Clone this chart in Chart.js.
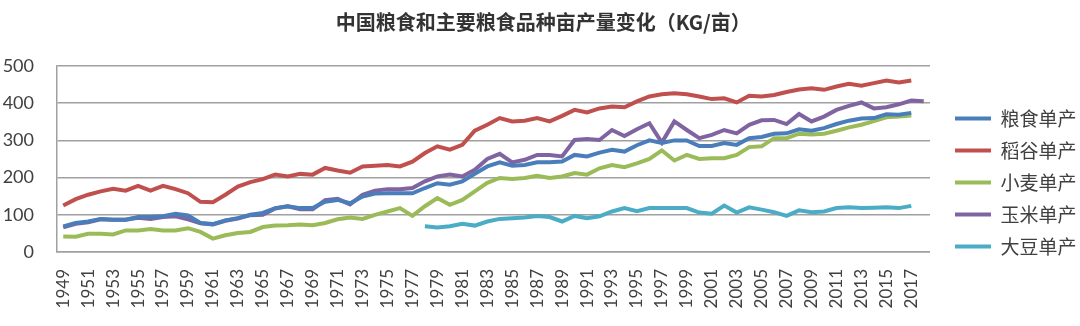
<!DOCTYPE html>
<html>
<head>
<meta charset="utf-8">
<script src="https://cdn.jsdelivr.net/npm/chart.js@4/dist/chart.umd.min.js"></script>
<style>
  html, body { margin: 0; padding: 0; background: #fff; }
  #wrap { position: relative; width: 1080px; height: 326px; }
</style>
</head>
<body>
<div id="wrap"><canvas id="c"></canvas></div>
<script>
// China grain yield per mu, 1949-2018 (kg/亩)
var YEARS = [];
for (var y = 1949; y <= 2018; y++) YEARS.push(String(y));

// one row = ten years, starting 1949
var GRAIN = [69,78,82,89,87,87,94,94,96,103,
  98,78,75,85,91,100,105,118,123,118,
  118,135,140,131,149,157,158,158,158,172,
  185,181,190,210,230,241,232,234,241,241,
  243,261,257,267,275,270,287,300,293,300,
  300,285,285,293,288,306,309,318,319,330,
  326,333,344,353,359,360,370,369,374,null];
var RICE = [125,142,154,163,170,165,178,165,178,169,
  158,135,134,154,176,188,196,208,203,210,
  208,226,219,213,230,232,234,230,243,266,
  284,275,288,326,342,360,351,353,360,351,
  366,382,375,386,391,389,405,418,424,427,
  424,418,411,413,402,420,418,422,430,437,
  440,436,445,452,447,454,461,456,461,null];
var WHEAT = [42,41,49,49,47,58,58,62,58,58,
  64,54,36,45,51,54,67,71,72,74,
  72,78,88,93,89,100,109,118,97,123,
  145,127,140,163,186,199,196,199,205,199,
  203,212,208,225,234,228,238,250,273,246,
  261,250,252,252,261,282,284,306,306,318,
  316,318,326,335,342,352,362,364,367,null];
var CORN = [66,76,80,88,87,87,92,89,94,96,
  88,77,74,84,90,99,100,117,123,115,
  115,139,143,128,154,165,169,169,172,190,
  203,208,203,221,250,264,241,248,261,261,
  257,301,304,301,328,312,330,346,294,351,
  328,306,315,328,319,342,354,355,344,371,
  351,364,382,393,402,386,389,397,407,405];
// soybean only from 1978
var SOY_START = 1978;
var SOY = [69,66,69,76,71,82,89,91,93,97,
  94,82,97,91,96,109,118,110,118,118,
  118,118,106,103,125,106,120,114,107,97,
  112,107,109,118,120,118,119,120,118,124,null];

var NAMES = ["粮食单产", "稻谷单产", "小麦单产", "玉米单产", "大豆单产"];
var COLORS = ["#4a7ebb", "#c0504d", "#9bbb59", "#8064a2", "#4bacc6"];

function lead(startYear, arr) {
  var out = [];
  for (var i = 1949; i < startYear; i++) out.push(null);
  return out.concat(arr).slice(0, YEARS.length);
}

var seriesData = [GRAIN, RICE, WHEAT, CORN, lead(SOY_START, SOY)];

var NUM = "Lato, 'Noto Sans CJK SC', sans-serif";
var CJK = "'Noto Sans CJK SC', 'Noto Sans', sans-serif";

new Chart(document.getElementById("c"), {
  type: "line",
  data: {
    labels: YEARS,
    datasets: seriesData.map(function (d, i) {
      return { label: NAMES[i], data: d, borderColor: COLORS[i], backgroundColor: COLORS[i],
        borderWidth: 4, pointRadius: 0, tension: 0, spanGaps: false, yAxisID: "y" };
    }),
  },
  options: {
    responsive: true, maintainAspectRatio: false, animation: false,
    layout: { padding: { left: 0, right: -6.5, top: 0, bottom: 0 } },
    plugins: {
      title: { display: true, text: "中国粮食和主要粮食品种亩产量变化（KG/亩）", color: "#333",
        font: { family: CJK, size: 20, weight: "bold" }, padding: { top: 10, bottom: 32 } },
      legend: {
        position: "right", align: "start",
        // empty title only pushes the items down next to the plot
        title: { display: true, text: " ", font: { size: 10 }, padding: { top: 84, bottom: 0 } },
        labels: {
          boxWidth: 36, boxHeight: 4, padding: 13, color: "#404040",
          font: { family: CJK, size: 19 },
          generateLabels: function (chart) {
            return Chart.defaults.plugins.legend.labels.generateLabels(chart).map(function (it) {
              it.lineWidth = 0; return it;
            });
          },
        },
      },
      tooltip: { enabled: false },
    },
    scales: {
      x: {
        offset: true,
        grid: { display: false },
        border: { color: "#a0a0a0", width: 1.5 },
        ticks: { autoSkip: false, minRotation: 90, maxRotation: 90, padding: 9, color: "#404040",
          font: { family: NUM, size: 17 },
          callback: function (v, i) { return i % 2 === 0 ? YEARS[i] : ""; } },
        afterFit: function (s) { s.paddingLeft = 0; s.paddingRight = 0; s.height = 74; },
      },
      y: {
        min: 0, max: 500,
        grid: { color: "#a0a0a0", lineWidth: 1.5, drawTicks: false },
        border: { color: "#a0a0a0", width: 1.5 },
        ticks: { stepSize: 100, padding: 23, color: "#404040", font: { family: NUM, size: 18 } },
        afterFit: function (s) { s.width = 57; },
      },
      yR: {
        position: "right", display: true,
        grid: { display: false }, border: { display: false }, ticks: { display: false },
        afterFit: function (s) { s.width = 12; },
      },
    },
  },
});
</script>
</body>
</html>
